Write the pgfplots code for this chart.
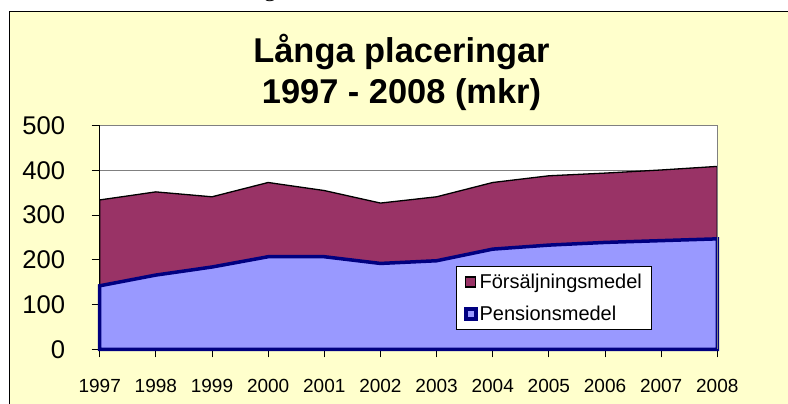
\documentclass[border=0pt]{standalone}
\usepackage{pgfplots}
\pgfplotsset{compat=1.18}
\usepackage{pgfplotstable}
\usepackage{fontspec}
\setmainfont{Liberation Sans}
\newfontfamily\serifg{Liberation Serif}
\definecolor{bgy}{HTML}{FFFFCC}
\definecolor{pens}{HTML}{9999FF}
\definecolor{pensb}{HTML}{000080}
\definecolor{fors}{HTML}{993366}
\definecolor{gridc}{HTML}{808080}
\pgfplotstableread{
year pens fors
1997 142 192
1998 166 186
1999 184 157
2000 207 166
2001 207 148
2002 192 135
2003 198 143
2004 224 149
2005 233 155
2006 239 155
2007 243 158
2008 247 162
}\data
\begin{document}
\begin{tikzpicture}[x=1pt,y=1pt]
\fill[bgy] (9.5,-30) rectangle (820,392.3);
\draw[black, line width=1.2pt] (9.5,-30) -- (9.5,392.3) -- (820,392.3);
\node[anchor=base, font=\serifg\fontsize{24}{28}\selectfont, inner sep=0pt] at (270,407) {g};
\node[anchor=base, font=\bfseries\fontsize{34.4}{40}\selectfont, inner sep=0pt] at (401.5,341.5) {Långa placeringar};
\node[anchor=base, font=\bfseries\fontsize{34.4}{40}\selectfont, inner sep=0pt] at (401.5,300) {1997 - 2008 (mkr)};
\begin{axis}[
  at={(99.7pt,54.7pt)}, anchor=south west,
  scale only axis, width=617.6pt, height=223.6pt,
  xmin=1997, xmax=2008, ymin=0, ymax=500,
  xtick={1997,1998,1999,2000,2001,2002,2003,2004,2005,2006,2007,2008},
  xticklabels={1997,1998,1999,2000,2001,2002,2003,2004,2005,2006,2007,2008},
  ytick={0,100,200,300,400,500},
  axis x line*=bottom, axis y line*=left,
  axis line style={black, line width=1pt, -},
  tick align=outside, major tick length=8pt,
  tick style={black, line width=0.8pt},
  ymajorgrids, grid style={gridc, line width=0.8pt},
  axis background/.style={fill=white},
  clip=false,
  /pgf/number format/assume math mode=true,
  yticklabel style={font=\fontsize{25.6}{30}\selectfont, anchor=east, inner sep=0pt, xshift=-26.4pt},
  xticklabel style={font=\fontsize{19}{22}\selectfont, anchor=base, inner sep=0pt, yshift=-35.3pt},
  stack plots=y,
  reverse legend,
  legend cell align=left,
  legend image code/.code={\draw[#1] (0pt,-5pt) rectangle (10pt,5pt);},
  legend style={at={(rel axis cs:0.5764,0.3725)}, anchor=north west,
    draw=black, line width=0.8pt, fill=white,
    font=\fontsize{20}{23}\selectfont,
    inner xsep=8pt, inner ysep=5.5pt, row sep=12pt},
]
\draw[gridc, line width=1pt] (rel axis cs:0,1) -- (rel axis cs:1,1) -- (rel axis cs:1,0);
\addplot[fill=pens, draw=pensb, line width=3.5pt] table[x=year,y=pens]{\data} \closedcycle;
\addlegendentry{Pensionsmedel}
\addplot[fill=fors, draw=black, line width=1.3pt] table[x=year,y=fors]{\data} \closedcycle;
\addlegendentry{Försäljningsmedel}
\end{axis}
\pgfresetboundingbox
\useasboundingbox (0,0) rectangle (788,404);
\end{tikzpicture}
\end{document}
